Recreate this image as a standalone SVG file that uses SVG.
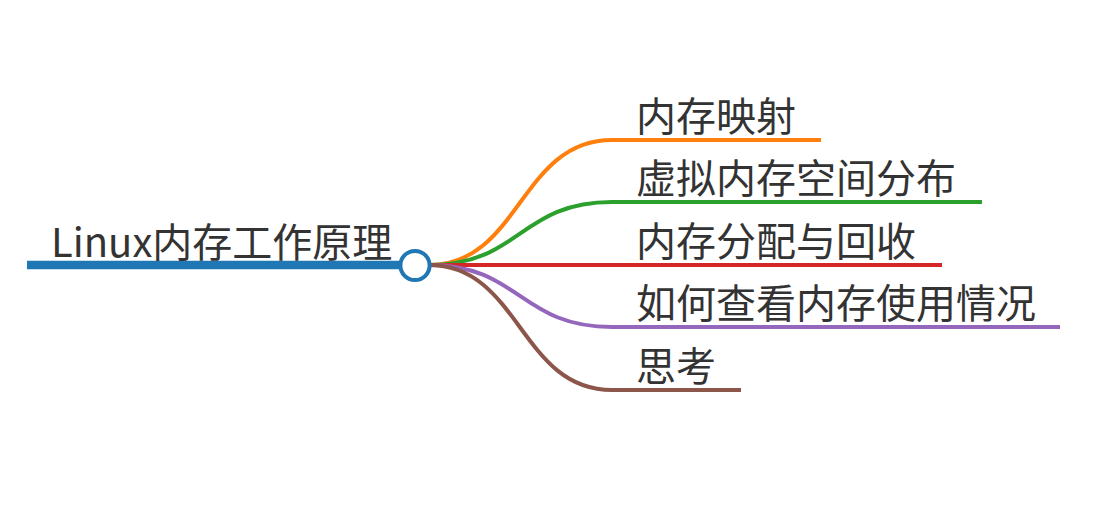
<svg xmlns="http://www.w3.org/2000/svg" width="1105" height="507" viewBox="0 0 1105 507">
<style>
.t{font-family:"Noto Sans CJK SC","Noto Sans",sans-serif;font-size:40px;fill:#333}
.b{fill:none;stroke-width:4;stroke-linecap:butt}
</style>
<rect width="1105" height="507" fill="#fff"/>
<g id="connectors">
<path class="b" stroke="#ff7f0e" d="M429 265 C520 265 520 140 612 140 L821 140"/>
<path class="b" stroke="#2ca02c" d="M429 265 C520 265 520 202 612 202 L982 202"/>
<path class="b" stroke="#d62728" d="M429 265 L942 265"/>
<path class="b" stroke="#9467bd" d="M429 265 C520 265 520 327 612 327 L1060 327"/>
<path class="b" stroke="#8c564b" d="M429 265 C520 265 520 390 612 390 L741 390"/>
</g>
<g id="root">
<line x1="27" y1="265" x2="400" y2="265" stroke="#1f77b4" stroke-width="8.6"/>
<text class="t" x="51" y="257">Linux内存工作原理</text>
<circle cx="415" cy="265.5" r="14.6" fill="#fff" stroke="#1f77b4" stroke-width="4"/>
</g>
<g id="n1"><text class="t" x="636" y="131">内存映射</text></g>
<g id="n2"><text class="t" x="636" y="193">虚拟内存空间分布</text></g>
<g id="n3"><text class="t" x="636" y="256">内存分配与回收</text></g>
<g id="n4"><text class="t" x="636" y="318">如何查看内存使用情况</text></g>
<g id="n5"><text class="t" x="636" y="381">思考</text></g>
</svg>
